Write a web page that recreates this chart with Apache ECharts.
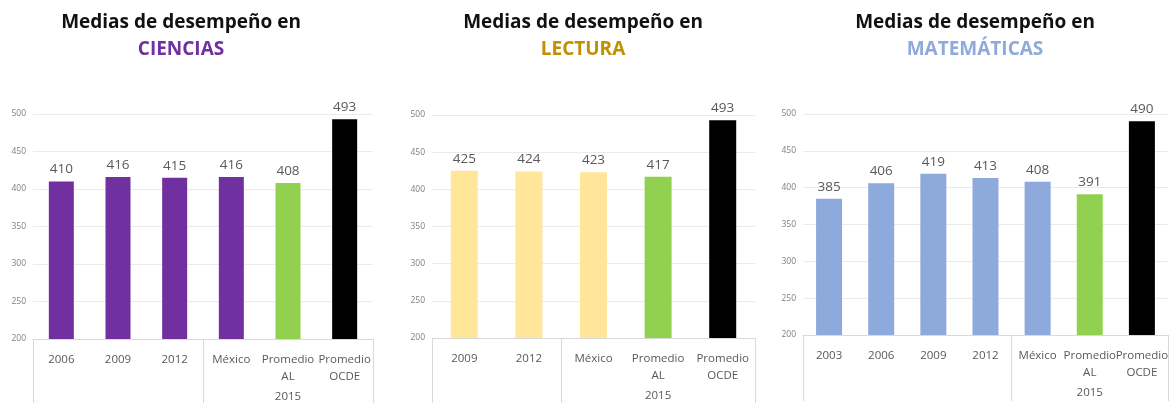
<!DOCTYPE html>
<html>
<head>
<meta charset="utf-8">
<script src="https://cdn.jsdelivr.net/npm/echarts@6/dist/echarts.min.js"></script>
<style>
  html, body { margin: 0; padding: 0; background: #fff; }
  #chart { width: 1171px; height: 403px; }
</style>
</head>
<body>
<div id="chart"></div>
<script>
// datos
const catCiencias = ["2006", "2009", "2012", "México", "Promedio\nAL", "Promedio\nOCDE"];
const valCiencias = [410, 416, 415, 416, 408, 493];
const catLectura = ["2009", "2012", "México", "Promedio\nAL", "Promedio\nOCDE"];
const valLectura = [425, 424, 423, 417, 493];
const catMate = ["2003", "2006", "2009", "2012", "México", "Promedio\nAL", "Promedio\nOCDE"];
const valMate = [385, 406, 419, 413, 408, 391, 490];
const grupo2015Inicio = [3, 2, 4]; // primer indice del grupo 2015
const etiquetaGrupo = "2015";
const yMin = 200, yMax = 500, yStep = 50;

const paneles = [
  { sub: "CIENCIAS", subColor: "#7030A0", color: "#7030A0", cats: catCiencias, vals: valCiencias,
    grid: { left: 33, top: 114, width: 340, height: 225 }, titleX: 176, barW: 25 },
  { sub: "LECTURA", subColor: "#BF9000", color: "#FFE699", cats: catLectura, vals: valLectura,
    grid: { left: 432, top: 115, width: 323, height: 223 }, titleX: 578, barW: 27 },
  { sub: "MATEMÁTICAS", subColor: "#8EA9DB", color: "#8EA9DB", cats: catMate, vals: valMate,
    grid: { left: 803, top: 114, width: 367, height: 221 }, titleX: 970, barW: 26 }
];

function colorBarra(p, name) {
  if (name === "Promedio\nAL") return "#92D050";
  if (name === "Promedio\nOCDE") return "#000000";
  return p.color;
}

const chart = echarts.init(document.getElementById("chart"));
const option = {
  animation: false,
  title: paneles.map(function (p) {
    return {
      text: "Medias de desempeño en",
      subtext: p.sub,
      left: p.titleX,
      top: 8,
      textAlign: "center",
      itemGap: 8,
      textStyle: { fontFamily: "Open Sans", fontWeight: "bold", fontSize: 19, color: "#111" },
      subtextStyle: { fontFamily: "Open Sans", fontWeight: "bold", fontSize: 19, color: p.subColor }
    };
  }),
  grid: paneles.map(function (p) { return p.grid; }),
  xAxis: paneles.map(function (p, i) {
    return {
      type: "category",
      gridIndex: i,
      data: p.cats,
      axisLine: { show: true, lineStyle: { color: "#D9D9D9" } },
      axisTick: {
        show: true,
        length: 66,
        lineStyle: { color: "#D9D9D9" },
        interval: function (idx) { return idx === 0 || idx === grupo2015Inicio[i]; }
      },
      axisLabel: {
        interval: 0,
        margin: 12,
        color: "#595959",
        fontFamily: "Open Sans",
        fontSize: 11.5,
        lineHeight: 17
      }
    };
  }),
  yAxis: paneles.map(function (p, i) {
    return {
      type: "value",
      gridIndex: i,
      min: yMin,
      max: yMax,
      interval: yStep,
      axisLine: { show: false },
      axisTick: { show: false },
      splitLine: { lineStyle: { color: "#EBEBEB" } },
      axisLabel: { color: "#7F7F7F", fontSize: 8.5, margin: 7, fontFamily: "Open Sans" }
    };
  }),
  series: paneles.map(function (p, i) {
    return {
      type: "bar",
      xAxisIndex: i,
      yAxisIndex: i,
      barWidth: p.barW,
      data: p.vals,
      itemStyle: {
        color: function (params) { return colorBarra(p, params.name); }
      },
      label: {
        show: true,
        position: "top",
        distance: 5,
        color: "#595959",
        fontFamily: "Open Sans",
        fontSize: 13.5
      }
    };
  })
};
chart.setOption(option);

// etiqueta del grupo 2015 centrada bajo sus categorias
const textos = paneles.map(function (p, i) {
  const a = chart.convertToPixel({ xAxisIndex: i }, p.cats[grupo2015Inicio[i]]);
  const b = chart.convertToPixel({ xAxisIndex: i }, p.cats[p.cats.length - 1]);
  return {
    type: "text",
    x: (a + b) / 2,
    y: p.grid.top + p.grid.height + 58,
    style: {
      text: etiquetaGrupo,
      fill: "#595959",
      font: "11.5px 'Open Sans'",
      textAlign: "center",
      textVerticalAlign: "middle"
    }
  };
});
chart.setOption({ graphic: textos });
</script>
</body>
</html>
